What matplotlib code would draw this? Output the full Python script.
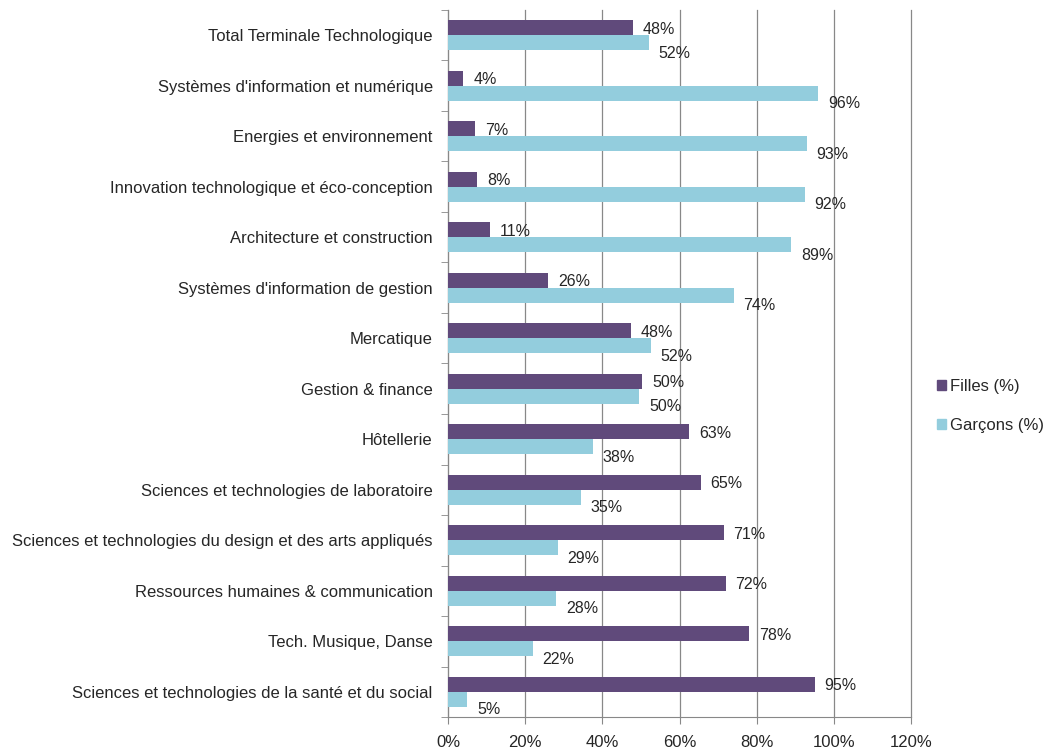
import matplotlib.pyplot as plt
import numpy as np
from matplotlib.ticker import FuncFormatter, FixedLocator
from matplotlib.patches import Patch

categories = [
    "Total Terminale Technologique",
    "Systèmes d'information et numérique",
    "Energies et environnement",
    "Innovation technologique et éco-conception",
    "Architecture et construction",
    "Systèmes d'information de gestion",
    "Mercatique",
    "Gestion & finance",
    "Hôtellerie",
    "Sciences et technologies de laboratoire",
    "Sciences et technologies du design et des arts appliqués",
    "Ressources humaines & communication",
    "Tech. Musique, Danse",
    "Sciences et technologies de la santé et du social",
]
filles = [48, 4, 7, 8, 11, 26, 48, 50, 63, 65, 71, 72, 78, 95]
garcons = [52, 96, 93, 92, 89, 74, 52, 50, 38, 35, 29, 28, 22, 5]
filles_bar = [48, 4, 7, 7.6, 11, 26, 47.4, 50.4, 62.5, 65.5, 71.5, 72, 78, 95]
garcons_bar = [52, 96, 93, 92.4, 89, 74, 52.6, 49.6, 37.5, 34.5, 28.5, 28, 22, 5]
xticks = [0, 20, 40, 60, 80, 100, 120]

c_f = "#604A7B"
c_g = "#93CDDD"
txt = "#262626"
plt.rcParams['font.family'] = ['Liberation Sans', 'DejaVu Sans']

fig = plt.figure(figsize=(10.43, 7.56), dpi=100)
ax = fig.add_axes([448/1043, 1-717/756, (911-448)/1043, (717-10)/756])

n = len(categories)
y = np.arange(n)[::-1].astype(float)
h = 0.3
ax.barh(y + h/2, filles_bar, height=h, color=c_f, zorder=3)
ax.barh(y - h/2, garcons_bar, height=h, color=c_g, zorder=3)

for yi, fv, fb in zip(y, filles, filles_bar):
    ax.annotate(f"{fv}%", (fb, yi + h/2), xytext=(7, -1), textcoords='offset points',
                va='center', ha='left', fontsize=11.5, color=txt)
for yi, gv, gb in zip(y, garcons, garcons_bar):
    ax.annotate(f"{gv}%", (gb, yi - h/2), xytext=(7, -7.5), textcoords='offset points',
                va='center', ha='left', fontsize=11.5, color=txt)

ax.set_xlim(0, 120)
ax.set_ylim(-0.5, n - 0.5)
ax.set_xticks(xticks)
ax.xaxis.set_major_formatter(FuncFormatter(lambda v, p: f"{int(v)}%"))
ax.set_yticks(y)
ax.set_yticklabels(categories, fontsize=12, color=txt)
ax.yaxis.set_minor_locator(FixedLocator(np.arange(-0.5, n, 1.0)))
ax.tick_params(axis='y', which='major', length=0, pad=11)
ax.tick_params(axis='y', which='minor', length=5, color='#888888', direction='out')
ax.tick_params(axis='x', length=5, color='#888888', labelsize=12, labelcolor=txt, pad=8)
ax.grid(axis='x', color='#888888', linewidth=0.9, zorder=0)
for gl in ax.get_xgridlines():
    gl.set_clip_on(False)
for s in ['top', 'right']:
    ax.spines[s].set_visible(False)
for s in ['left', 'bottom']:
    ax.spines[s].set_color('#888888')

handles = [Patch(color=c_f), Patch(color=c_g)]
leg = fig.legend(handles, ["Filles (%)", "Garçons (%)"], loc='center left',
                 bbox_to_anchor=(922/1043, 1-406/756), frameon=False, fontsize=12,
                 handlelength=0.55, handleheight=0.55, handletextpad=0.25, labelspacing=1.4)
for t in leg.get_texts():
    t.set_color(txt)

fig.savefig("out.png", dpi=100)
